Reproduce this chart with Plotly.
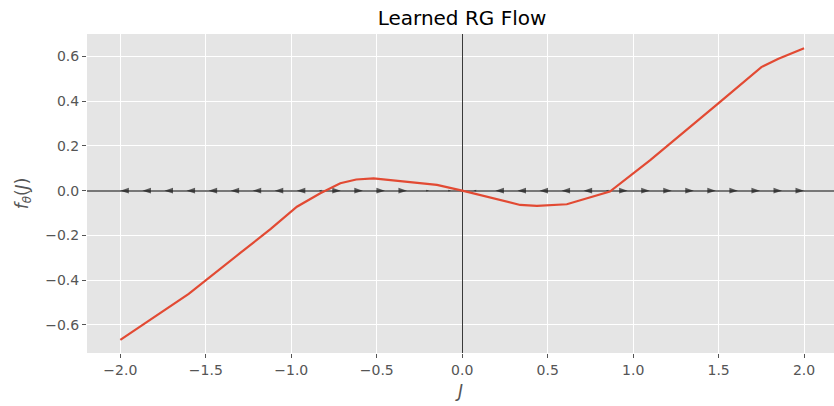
import plotly.graph_objects as go

# Learned flow function f_theta(J)
curve_J = [-2.0, -1.6, -1.3, -1.12, -0.967, -0.83, -0.713, -0.62, -0.519,
           -0.148, 0.0, 0.2, 0.339, 0.437, 0.612, 0.864, 1.10, 1.5, 1.75, 1.85, 2.0]
curve_f = [-0.668, -0.462, -0.28, -0.171, -0.072, -0.012, 0.033, 0.05, 0.055,
           0.026, 0.0, -0.038, -0.064, -0.068, -0.061, -0.004, 0.137, 0.392, 0.553, 0.59, 0.637]

# Flow arrows along J axis (grid of 32 points, flow value at each)
arrow_J = [-2.000, -1.871, -1.742, -1.613, -1.484, -1.355, -1.226, -1.097,
           -0.968, -0.839, -0.710, -0.581, -0.452, -0.323, -0.194, -0.065,
           0.065, 0.194, 0.323, 0.452, 0.581, 0.710, 0.839, 0.968,
           1.097, 1.226, 1.355, 1.484, 1.613, 1.742, 1.871, 2.000]
arrow_flow = [-0.668, -0.602, -0.535, -0.469, -0.392, -0.314, -0.235, -0.156,
              -0.072, -0.016, 0.034, 0.052, 0.050, 0.040, 0.022, 0.011,
              -0.012, -0.037, -0.061, -0.068, -0.062, -0.038, -0.010, 0.058,
              0.135, 0.217, 0.299, 0.382, 0.465, 0.548, 0.598, 0.637]

x_ticks = [-2.0, -1.5, -1.0, -0.5, 0.0, 0.5, 1.0, 1.5, 2.0]
y_ticks = [-0.6, -0.4, -0.2, 0.0, 0.2, 0.4, 0.6]

sizes = [9 if abs(u) >= 0.03 else 3 for u in arrow_flow]
angles = [90 if u > 0 else -90 for u in arrow_flow]

fig = go.Figure()
fig.add_trace(go.Scatter(
    x=arrow_J, y=[0.0] * len(arrow_J), mode="markers",
    marker=dict(symbol="arrow", size=sizes, angle=angles, color="#1c1c1c",
                line=dict(width=0)),
    hoverinfo="skip", showlegend=False))
fig.add_trace(go.Scatter(
    x=curve_J, y=curve_f, mode="lines",
    line=dict(color="#E24A33", width=2.2), showlegend=False))

font = "DejaVu Sans"
fig.update_layout(
    width=834, height=406,
    margin=dict(l=87, r=0, t=34, b=53),
    paper_bgcolor="white", plot_bgcolor="#E5E5E5",
    font=dict(family=font, color="#555555", size=14),
    title=dict(text="Learned RG Flow", font=dict(size=20, color="black", family=font),
               x=462 / 834, xref="container", xanchor="center",
               y=1 - 18 / 406, yref="container", yanchor="middle"),
)
fig.update_xaxes(
    range=[-2.195, 2.175], tickvals=x_ticks, tickformat=".1f",
    showgrid=True, gridcolor="white", gridwidth=1.1,
    zeroline=True, zerolinecolor="#3a3a3a", zerolinewidth=1,
    ticks="outside", ticklen=4, tickcolor="#555555", tickwidth=1,
    showline=False,
    tickfont=dict(size=14, color="#555555", family=font),
    title=dict(text="<i>J</i>", font=dict(size=17, color="#555555", family=font), standoff=8),
)
fig.update_yaxes(
    range=[-0.7265, 0.701], tickvals=y_ticks, tickformat=".1f",
    showgrid=True, gridcolor="white", gridwidth=1.1,
    zeroline=True, zerolinecolor="#777777", zerolinewidth=2,
    ticks="outside", ticklen=4, tickcolor="#555555", tickwidth=1,
    showline=False,
    tickfont=dict(size=14, color="#555555", family=font),
    title=dict(text="<i>f</i><sub><i>θ</i></sub>(<i>J</i>)",
               font=dict(size=17, color="#555555", family=font), standoff=12),
)

fig.write_html("out.html")
